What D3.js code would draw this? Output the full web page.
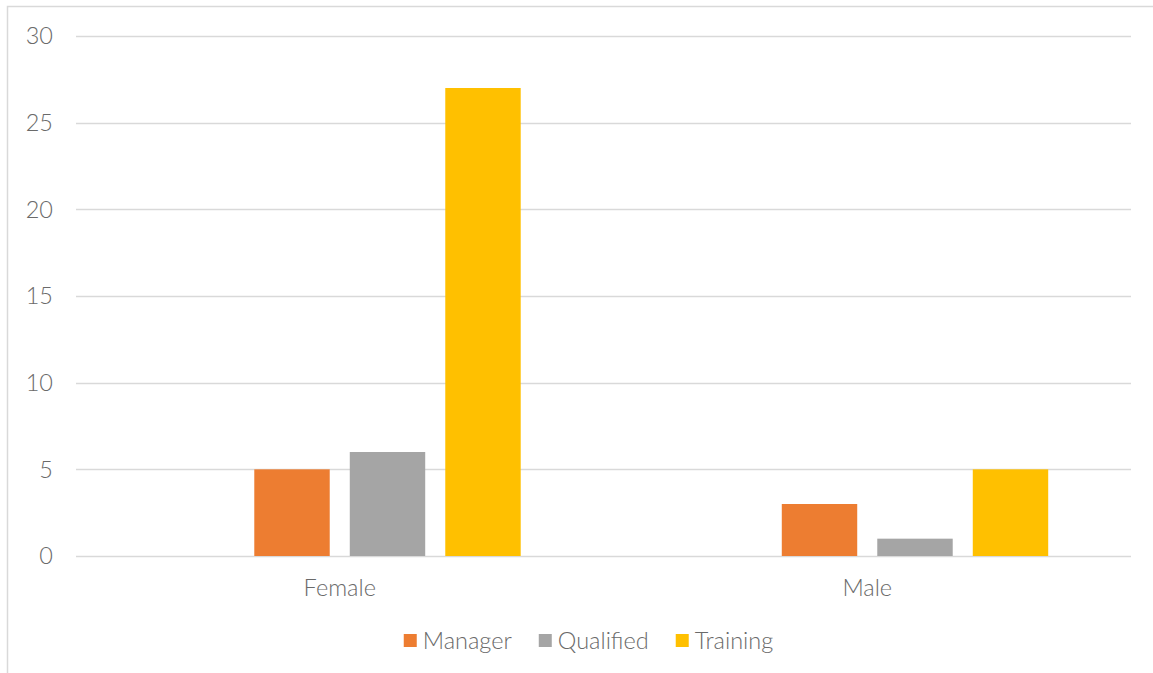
<!DOCTYPE html>
<html>
<head>
<meta charset="utf-8">
<script src="https://cdn.jsdelivr.net/npm/d3@7"></script>
<style>
  body { margin: 0; background: #fff; }
  text { font-family: Lato, "Open Sans", sans-serif; font-weight: 300; fill: #6a6a6a; }
</style>
</head>
<body>
<div id="chart"></div>
<script>
// data
var categories = ["Female", "Male"];
// first series is an empty placeholder column (no values, not in legend)
var seriesNames = ["(blank)", "Manager", "Qualified", "Training"];
var blankValues = [null, null];
var managerValues = [5, 3];
var qualifiedValues = [6, 1];
var trainingValues = [27, 5];
var yTicks = [0, 5, 10, 15, 20, 25, 30];
var legendNames = ["Manager", "Qualified", "Training"];

var colors = { "(blank)": "#4472C4", "Manager": "#ED7D31", "Qualified": "#A5A5A5", "Training": "#FFC000" };
var valuesBySeries = {
  "(blank)": blankValues,
  "Manager": managerValues,
  "Qualified": qualifiedValues,
  "Training": trainingValues
};

var width = 1153, height = 673;
var plotLeft = 76, plotRight = 1131, plotTop = 36, plotBottom = 556;
var fontSize = "23.5px";

var svg = d3.select("#chart").append("svg")
  .attr("width", width)
  .attr("height", height);

// chart border (only top and left visible in frame)
svg.append("rect")
  .attr("x", 7.5).attr("y", 6.5)
  .attr("width", 1300).attr("height", 800)
  .attr("fill", "none")
  .attr("stroke", "#d9d9d9")
  .attr("stroke-width", 1.5);

var y = d3.scaleLinear().domain([0, 30]).range([plotBottom, plotTop]);
var x0 = d3.scaleBand().domain(categories).range([plotLeft, plotRight]).padding(0);
var x1 = d3.scaleBand().domain(seriesNames).range([0, x0.bandwidth()])
  .paddingInner(0.21).paddingOuter(0.867);

// gridlines
svg.append("g").selectAll("line")
  .data(yTicks)
  .enter().append("line")
  .attr("x1", plotLeft).attr("x2", plotRight)
  .attr("y1", d => Math.round(y(d)) + 0.5)
  .attr("y2", d => Math.round(y(d)) + 0.5)
  .attr("stroke", "#d9d9d9")
  .attr("stroke-width", 1.5);

// y labels
svg.append("g").selectAll("text")
  .data(yTicks)
  .enter().append("text")
  .attr("x", 53)
  .attr("y", d => y(d))
  .attr("dy", "0.36em")
  .attr("text-anchor", "end")
  .style("font-size", fontSize)
  .text(d => d);

// bars
var groups = svg.append("g").selectAll("g")
  .data(categories)
  .enter().append("g")
  .attr("transform", d => "translate(" + x0(d) + ",0)");

groups.selectAll("rect")
  .data((c, i) => seriesNames.map(s => ({ series: s, value: valuesBySeries[s][i] })))
  .enter().filter(d => d.value != null).append("rect")
  .attr("x", d => x1(d.series))
  .attr("width", x1.bandwidth())
  .attr("y", d => y(d.value))
  .attr("height", d => y(0) - y(d.value))
  .attr("fill", d => colors[d.series]);

// category labels
svg.append("g").selectAll("text")
  .data(categories)
  .enter().append("text")
  .attr("x", d => x0(d) + x0.bandwidth() / 2)
  .attr("y", 596)
  .attr("text-anchor", "middle")
  .style("font-size", fontSize)
  .text(d => d);

// legend
var legendGap = 27;
var legend = svg.append("g");
var lx = 0;
legendNames.forEach(function (name) {
  var item = legend.append("g").attr("transform", "translate(" + lx + ",0)");
  item.append("rect")
    .attr("x", 0).attr("y", -15)
    .attr("width", 13).attr("height", 13)
    .attr("fill", colors[name]);
  var t = item.append("text")
    .attr("x", 19).attr("y", 0)
    .style("font-size", fontSize)
    .text(name);
  lx += 19 + t.node().getComputedTextLength() + legendGap;
});
var legendWidth = lx - legendGap;
legend.attr("transform", "translate(" + (588.5 - legendWidth / 2) + ",649)");
</script>
</body>
</html>
